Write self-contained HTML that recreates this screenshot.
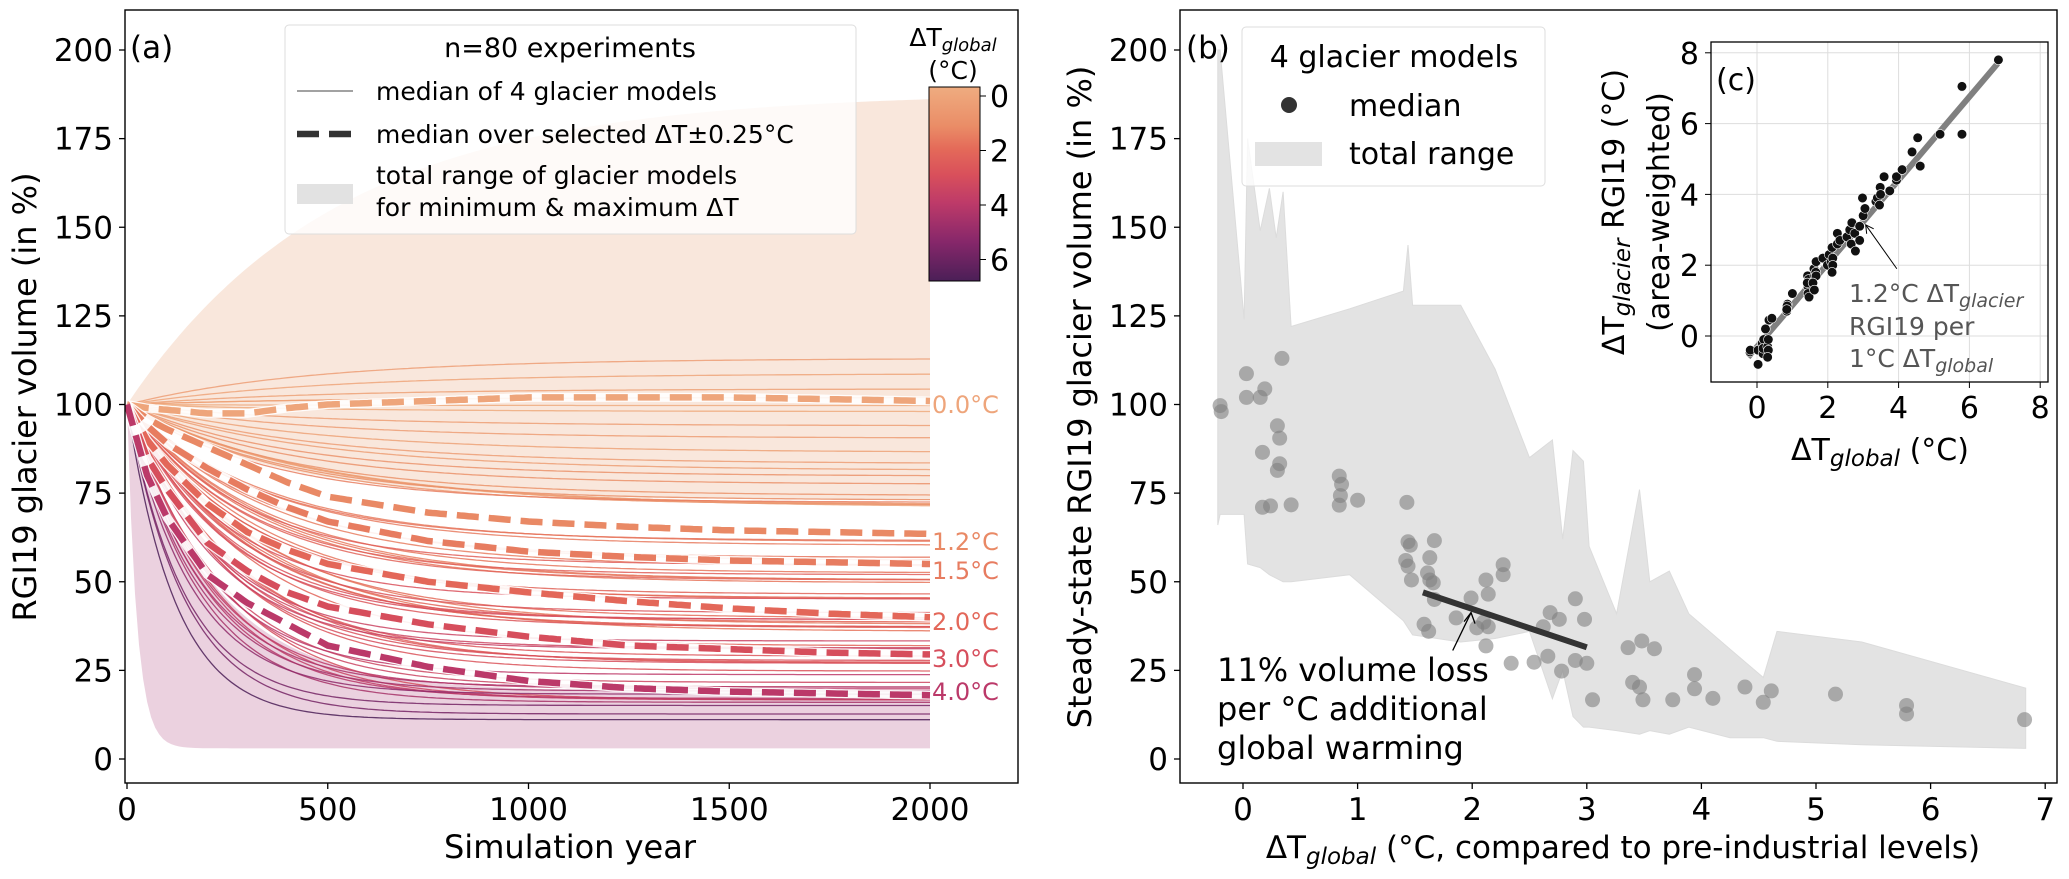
<!DOCTYPE html>
<html><head><meta charset="utf-8"><style>
body{margin:0;background:#fff}
svg{display:block;font-family:"DejaVu Sans","Liberation Sans",sans-serif}
</style></head><body>
<svg id="fig" width="2069" height="879" viewBox="0 0 2069 879" xmlns="http://www.w3.org/2000/svg">
<defs>
<linearGradient id="cbar" x1="0" y1="0" x2="0" y2="1">
<stop offset="0" stop-color="#efac80"/><stop offset="0.2" stop-color="#ea8d67"/><stop offset="0.32" stop-color="#e46a59"/><stop offset="0.45" stop-color="#d9505b"/><stop offset="0.6" stop-color="#bd3a69"/><stop offset="0.8" stop-color="#86276a"/><stop offset="1" stop-color="#4b1f57"/>
</linearGradient>
<clipPath id="clipA"><rect x="125" y="10" width="893" height="773"/></clipPath>
<clipPath id="clipB"><rect x="1180" y="10" width="877" height="773"/></clipPath>
</defs>
<g id="panelA"></g>
<g id="panelB"></g>
<g id="panelC"></g>
</svg>
<script>
// ---- data ----
const expTemps = [-0.20,-0.19,0.03,0.03,0.15,0.19,0.17,0.17,0.24,0.34,0.30,0.32,0.32,0.30,0.42,0.84,0.86,0.85,0.84,1.00,1.43,1.44,1.46,1.42,1.44,1.47,1.61,1.63,1.63,1.67,1.66,1.67,1.58,1.62,1.86,1.99,2.04,2.10,2.12,2.14,2.14,2.12,2.27,2.27,2.34,2.54,2.62,2.68,2.66,2.76,2.78,2.90,2.90,2.98,3.00,3.05,3.36,3.40,3.46,3.48,3.49,3.59,3.75,3.94,3.94,4.10,4.38,4.54,4.61,5.17,5.79,5.79,6.82];
const expVolumes = [99.7,98,108.7,102,102,104.4,86.5,71,71.4,113,94,90.5,83.3,81.4,71.7,79.8,77.5,74.3,71.6,73,72.4,61.3,60.3,56,54.4,50.5,52.5,56.8,50.5,61.6,49.7,45,38,36,39.8,45.4,37,38.6,50.5,46.5,37.3,31.9,54.8,52,27,27.3,37.3,41.3,29,39.4,24.8,45.2,27.8,39.4,27,16.7,31.4,21.6,20.3,33.3,16.7,31.1,16.7,23.8,19.8,17.1,20.3,16,19.2,18.3,15.1,12.7,11.1];
const glacierTemps = [-0.45,-0.4,-0.8,-0.4,-0.2,-0.1,-0.5,-0.35,0.2,0.45,-0.3,-0.1,-0.4,-0.6,0.5,0.7,0.9,0.85,0.75,1.2,1.7,1.4,1.6,1.5,1.2,1.1,1.9,1.7,1.3,2.1,1.8,1.7,1.5,1.3,2.2,2.0,2.3,2.1,2.5,2.2,2.0,1.8,2.6,2.9,2.7,2.8,3.0,3.2,2.6,2.9,2.4,3.1,2.7,3.9,3.4,3.6,3.8,3.9,3.7,4.2,4.0,4.5,4.1,4.4,4.5,4.7,5.2,5.6,4.8,5.7,7.05,5.7,7.8];
const bandT = [-0.22,-0.2,0.01,0.04,0.15,0.23,0.29,0.35,0.42,0.93,1.4,1.44,1.48,1.9,2.2,2.5,2.7,2.79,2.88,2.97,3.02,3.26,3.46,3.55,3.72,3.89,4.25,4.54,4.66,5.4,6.83];
const bandUpper = [200,200,124,175,149,161,147,160,122,127,132,145,128,128,110,85,90,62,87,84,60,41,76,50,53,41,31,23,36,33,20];
const bandLower = [66,69,69,55,54,52,51,50,50,52,39,37,35,33,34,36,17,25,12,9,9,8,7,8,7,9,6,6,5,4,3];
const medYears = [0,50,100,200,300,400,500,750,1000,1250,1500,1750,2000];
const med00 = [100,99,98.5,97.5,97.5,99,100,101,102,102,102,101.5,101];
const med12 = [100,96,93,88,83,78,74,69.5,67,65.5,64.5,64,63.5];
const med15 = [100,94,89,82,76,71,67,61.5,58.5,57,56,55.5,55];
const med20 = [100,90,83,72,64,59,55,50,47,44.5,42.5,41,40];
const med30 = [100,85,76,61,53,47,43,38,34.5,32,31,30,29.5];
const med40 = [100,80,68,52,44,38,32,26,22,20,19,18.5,18];
const medLabels = ["0.0°C","1.2°C","1.5°C","2.0°C","3.0°C","4.0°C"];
const medTemps = [0,1.2,1.5,2.0,3.0,4.0];
const envMaxEnd = 188, envMinEnd = 73, envHotUpperEnd = 19, envHotLowerEnd = 3;
const yTicksA = [0,25,50,75,100,125,150,175,200];
const xTicksA = [0,500,1000,1500,2000];
const xTicksB = [0,1,2,3,4,5,6,7];
const ticksC = [0,2,4,6,8];
const cbarTicks = [0,2,4,6];
const regB = [[1.57,47],[3.0,31.5]];
const regC = [[-0.25,-0.6],[6.8,7.7]];

// ---- axes ----
const xA = y => 127 + y*0.4015;
const yA = v => 759 - v*3.545;
const xB = t => 1243 + t*114.6;
const yB = yA;
const xC = t => 1757 + t*35.4;
const yC = t => 336 - t*35.4;
const cbY = t => 96 + t*27.25;

const NS="http://www.w3.org/2000/svg";
function mk(parent, tag, attrs, txt){const e=document.createElementNS(NS,tag);for(const k in attrs)e.setAttribute(k,attrs[k]);if(txt!==undefined)e.textContent=txt;parent.appendChild(e);return e;}
function lerpHex(a,b,f){const pa=parseInt(a.slice(1),16),pb=parseInt(b.slice(1),16);const r=Math.round(((pa>>16)&255)*(1-f)+((pb>>16)&255)*f),g=Math.round(((pa>>8)&255)*(1-f)+((pb>>8)&255)*f),bl=Math.round((pa&255)*(1-f)+(pb&255)*f);return `rgb(${r},${g},${bl})`;}
const cStops=[[-0.3,"#efac80"],[1.1,"#ea8d67"],[1.9,"#e46a59"],[2.9,"#d9505b"],[3.95,"#bd3a69"],[5.4,"#86276a"],[6.8,"#4b1f57"]];
function cmap(t){if(t<=cStops[0][0])return cStops[0][1];for(let i=1;i<cStops.length;i++){if(t<=cStops[i][0]){const f=(t-cStops[i-1][0])/(cStops[i][0]-cStops[i-1][0]);return lerpHex(cStops[i-1][1],cStops[i][1],f);}}return cStops[cStops.length-1][1];}
function interp(xs,ys,x){for(let i=1;i<xs.length;i++){if(x<=xs[i]){const f=(x-xs[i-1])/(xs[i]-xs[i-1]);return ys[i-1]+(ys[i]-ys[i-1])*f;}}return ys[ys.length-1];}

// ================= Panel A =================
const A=document.getElementById('panelA');
const gA=mk(A,'g',{'clip-path':'url(#clipA)'});
function envPath(endU,tauU,endL,tauL){let p='',q=[];for(let y=0;y<=2000;y+=10){const u=endU+(100-endU)*Math.exp(-y/tauU);const l=endL+(100-endL)*Math.exp(-y/tauL);p+=(y?'L':'M')+xA(y).toFixed(1)+','+yA(u).toFixed(1);q.push(xA(y).toFixed(1)+','+yA(l).toFixed(1));}return p+'L'+q.reverse().join('L')+'Z';}
let e1=mk(gA,'path',{d:envPath(envMaxEnd,520,envMinEnd,350),fill:'#f8e3d6',opacity:'0.85'});

let e2=mk(gA,'path',{d:envPath(envHotUpperEnd,220,envHotLowerEnd,25),fill:'#e6c6d7',opacity:'0.8'});

const linesG=mk(gA,'g',{});

expTemps.forEach((t,i)=>{const s=expVolumes[i];const tau=500/(1+0.25*Math.max(t,0)+0.03*t*t);let p='';for(let y=0;y<=2000;y+=10){const v=s+(100-s)*Math.exp(-y/tau);p+=(y?'L':'M')+xA(y).toFixed(1)+','+yA(v).toFixed(1);}
const l=mk(linesG,'path',{d:p,fill:'none',stroke:cmap(t),'stroke-width':'1.3',opacity:'0.85'});
});
const meds=[med00,med12,med15,med20,med30,med40];
const labY=[405,542,571,622,659,692];
meds.forEach((m,k)=>{let p='';for(let y=0;y<=2000;y+=10){p+=(y?'L':'M')+xA(y).toFixed(1)+','+yA(interp(medYears,m,y)).toFixed(1);}
mk(gA,'path',{d:p,fill:'none',stroke:'#fff','stroke-width':'9',opacity:'0.9'});
const d=mk(gA,'path',{d:p,fill:'none',stroke:cmap(medTemps[k]),'stroke-width':'6.5','stroke-dasharray':'22 10'});

const t=mk(A,'text',{x:932,y:labY[k]+8,'font-size':'24',fill:cmap(medTemps[k])},medLabels[k]);
});
// axes
const frA=mk(A,'rect',{x:125,y:10,width:893,height:773,fill:'none',stroke:'#000','stroke-width':'1.4'});

yTicksA.forEach(v=>{mk(A,'line',{x1:119,x2:125,y1:yA(v),y2:yA(v),stroke:'#000','stroke-width':'1.3'});
const t=mk(A,'text',{x:113,y:yA(v)+11,'font-size':'31','text-anchor':'end'},String(v));});
xTicksA.forEach(v=>{mk(A,'line',{x1:xA(v),x2:xA(v),y1:783,y2:789,stroke:'#000','stroke-width':'1.3'});
const t=mk(A,'text',{x:xA(v),y:820,'font-size':'31','text-anchor':'middle'},String(v));});
let tt=mk(A,'text',{x:570,y:858,'font-size':'32','text-anchor':'middle'},'Simulation year');
tt=mk(A,'text',{x:0,y:0,'font-size':'32','text-anchor':'middle',transform:'translate(36,397) rotate(-90)'},'RGI19 glacier volume (in %)');
tt=mk(A,'text',{x:130,y:58,'font-size':'31'},'(a)');
// legend A
const lgA=mk(A,'g',{});
mk(lgA,'rect',{x:285,y:25,width:571,height:209,rx:4,fill:'#fff','fill-opacity':'0.8',stroke:'#ddd'});
mk(lgA,'text',{x:570,y:57,'font-size':'27','text-anchor':'middle'},'n=80 experiments');
mk(lgA,'line',{x1:297,x2:353,y1:91,y2:91,stroke:'#444','stroke-width':'1'});
mk(lgA,'text',{x:376,y:100,'font-size':'25'},'median of 4 glacier models');
mk(lgA,'line',{x1:297,x2:353,y1:134,y2:134,stroke:'#333','stroke-width':'6.5','stroke-dasharray':'22 10'});
mk(lgA,'text',{x:376,y:143,'font-size':'25'},'median over selected ΔT±0.25°C');
mk(lgA,'rect',{x:297,y:184,width:56,height:20,fill:'#e2e2e2'});
mk(lgA,'text',{x:376,y:184,'font-size':'25'},'total range of glacier models');
mk(lgA,'text',{x:376,y:216,'font-size':'25'},'for minimum & maximum ΔT');
// colorbar
const cb=mk(A,'g',{});
mk(cb,'rect',{x:929,y:87,width:51,height:194,fill:'url(#cbar)',stroke:'#000','stroke-width':'1'});
cbarTicks.forEach(v=>{mk(cb,'line',{x1:980,x2:986,y1:cbY(v),y2:cbY(v),stroke:'#000'});mk(cb,'text',{x:990,y:cbY(v)+11,'font-size':'30'},String(v));});
const cbt=mk(cb,'text',{x:953,y:46,'font-size':'25','text-anchor':'middle'});cbt.innerHTML='ΔT<tspan font-style="italic" font-size="18" dy="5">global</tspan>';
mk(cb,'text',{x:953,y:79,'font-size':'25','text-anchor':'middle'},'(°C)');

// ================= Panel B =================
const B=document.getElementById('panelB');
const gB=mk(B,'g',{'clip-path':'url(#clipB)'});
let bp='';bandT.forEach((t,i)=>bp+=(i?'L':'M')+xB(t).toFixed(1)+','+yB(bandUpper[i]).toFixed(1));
for(let i=bandT.length-1;i>=0;i--)bp+='L'+xB(bandT[i]).toFixed(1)+','+yB(bandLower[i]).toFixed(1);
const band=mk(gB,'path',{d:bp+'Z',fill:'#e3e3e3',stroke:'#dcdcdc','stroke-width':'1'});

expTemps.forEach((t,i)=>{const c=mk(gB,'circle',{cx:xB(t),cy:yB(expVolumes[i]),r:7.5,fill:'#808080','fill-opacity':'0.6'});
});
const rb=mk(gB,'line',{x1:xB(regB[0][0]),y1:yB(regB[0][1]),x2:xB(regB[1][0]),y2:yB(regB[1][1]),stroke:'#333','stroke-width':'6'});

const ar=mk(B,'g',{});
const ax1=xB(1.83),ay1=yB(30.6),ax2=xB(1.99),ay2=yB(41.3);
mk(ar,'line',{x1:ax1,y1:ay1,x2:ax2,y2:ay2,stroke:'#000','stroke-width':'1.3'});
mk(ar,'path',{d:`M${ax2-7},${ay2+9}L${ax2},${ay2}L${ax2+4},${ay2+11}`,fill:'none',stroke:'#000','stroke-width':'1.3'});
['11% volume loss','per °C additional','global warming'].forEach((s,i)=>{const t=mk(B,'text',{x:1217,y:681+i*39,'font-size':'32'},s);});
const frB=mk(B,'rect',{x:1180,y:10,width:877,height:773,fill:'none',stroke:'#000','stroke-width':'1.4'});

yTicksA.forEach(v=>{mk(B,'line',{x1:1174,x2:1180,y1:yB(v),y2:yB(v),stroke:'#000','stroke-width':'1.3'});
const t=mk(B,'text',{x:1168,y:yB(v)+11,'font-size':'31','text-anchor':'end'},String(v));});
xTicksB.forEach(v=>{mk(B,'line',{x1:xB(v),x2:xB(v),y1:783,y2:789,stroke:'#000','stroke-width':'1.3'});
const t=mk(B,'text',{x:xB(v),y:820,'font-size':'31','text-anchor':'middle'},String(v));});
tt=mk(B,'text',{x:1623,y:858,'font-size':'31','text-anchor':'middle'});tt.innerHTML='ΔT<tspan font-style="italic" font-size="23" dy="6">global</tspan><tspan dy="-6"> (°C, compared to pre-industrial levels)</tspan>';

tt=mk(B,'text',{x:0,y:0,'font-size':'32','text-anchor':'middle',transform:'translate(1091,397) rotate(-90)'},'Steady-state RGI19 glacier volume (in %)');
tt=mk(B,'text',{x:1186,y:58,'font-size':'31'},'(b)');
const lgB=mk(B,'g',{});
mk(lgB,'rect',{x:1242,y:27,width:303,height:159,rx:4,fill:'#fff','fill-opacity':'0.8',stroke:'#ddd'});
mk(lgB,'text',{x:1394,y:67,'font-size':'30','text-anchor':'middle'},'4 glacier models');
mk(lgB,'circle',{cx:1289,cy:105,r:8,fill:'#333'});
mk(lgB,'text',{x:1349,y:116,'font-size':'30'},'median');
mk(lgB,'rect',{x:1255,y:142,width:67,height:24,fill:'#e3e3e3'});
mk(lgB,'text',{x:1349,y:164,'font-size':'30'},'total range');

// ================= Panel C (inset) =================
const C=document.getElementById('panelC');
mk(C,'rect',{x:1711,y:42,width:337,height:340,fill:'#fff'});
ticksC.forEach(v=>{mk(C,'line',{x1:xC(v),x2:xC(v),y1:42,y2:382,stroke:'#ddd','stroke-width':'1'});mk(C,'line',{x1:1711,x2:2048,y1:yC(v),y2:yC(v),stroke:'#ddd','stroke-width':'1'});});
const rc=mk(C,'line',{x1:xC(regC[0][0]),y1:yC(regC[0][1]),x2:xC(regC[1][0]),y2:yC(regC[1][1]),stroke:'#808080','stroke-width':'6'});

expTemps.forEach((t,i)=>{const c=mk(C,'circle',{cx:xC(t),cy:yC(glacierTemps[i]),r:4.8,fill:'#111',stroke:'#fff','stroke-width':'0.6'});
});
const frC=mk(C,'rect',{x:1711,y:42,width:337,height:340,fill:'none',stroke:'#000','stroke-width':'1.3'});

ticksC.forEach(v=>{mk(C,'line',{x1:xC(v),x2:xC(v),y1:382,y2:388,stroke:'#000'});
let t=mk(C,'text',{x:xC(v),y:418,'font-size':'30','text-anchor':'middle'},String(v));
mk(C,'line',{x1:1705,x2:1711,y1:yC(v),y2:yC(v),stroke:'#000'});
t=mk(C,'text',{x:1699,y:yC(v)+11,'font-size':'30','text-anchor':'end'},String(v));});
tt=mk(C,'text',{x:1880,y:460,'font-size':'30','text-anchor':'middle'});tt.innerHTML='ΔT<tspan font-style="italic" font-size="23" dy="6">global</tspan><tspan dy="-6"> (°C)</tspan>';

tt=mk(C,'text',{x:0,y:0,'font-size':'30','text-anchor':'middle',transform:'translate(1624,212) rotate(-90)'});tt.innerHTML='ΔT<tspan font-style="italic" font-size="23" dy="6">glacier</tspan><tspan dy="-6"> RGI19 (°C)</tspan>';

tt=mk(C,'text',{x:0,y:0,'font-size':'30','text-anchor':'middle',transform:'translate(1669,212) rotate(-90)'},'(area-weighted)');

tt=mk(C,'text',{x:1716,y:90,'font-size':'30'},'(c)');
const arC=mk(C,'g',{});
const cx1=xC(3.95),cy1=yC(1.9),cx2=xC(3.07),cy2=yC(3.14);
mk(arC,'line',{x1:cx1,y1:cy1,x2:cx2,y2:cy2,stroke:'#000','stroke-width':'1'});
mk(arC,'path',{d:`M${cx2+1},${cy2+9}L${cx2},${cy2}L${cx2+8},${cy2+4}`,fill:'none',stroke:'#000','stroke-width':'1'});
const an=mk(C,'g',{'font-size':'25',fill:'#555'});
let a1=mk(an,'text',{x:1849,y:302});a1.innerHTML='1.2°C ΔT<tspan font-style="italic" font-size="19" dy="5">glacier</tspan>';
mk(an,'text',{x:1849,y:335},'RGI19 per');
let a3=mk(an,'text',{x:1849,y:367});a3.innerHTML='1°C ΔT<tspan font-style="italic" font-size="19" dy="5">global</tspan>';
</script>
</body></html>
